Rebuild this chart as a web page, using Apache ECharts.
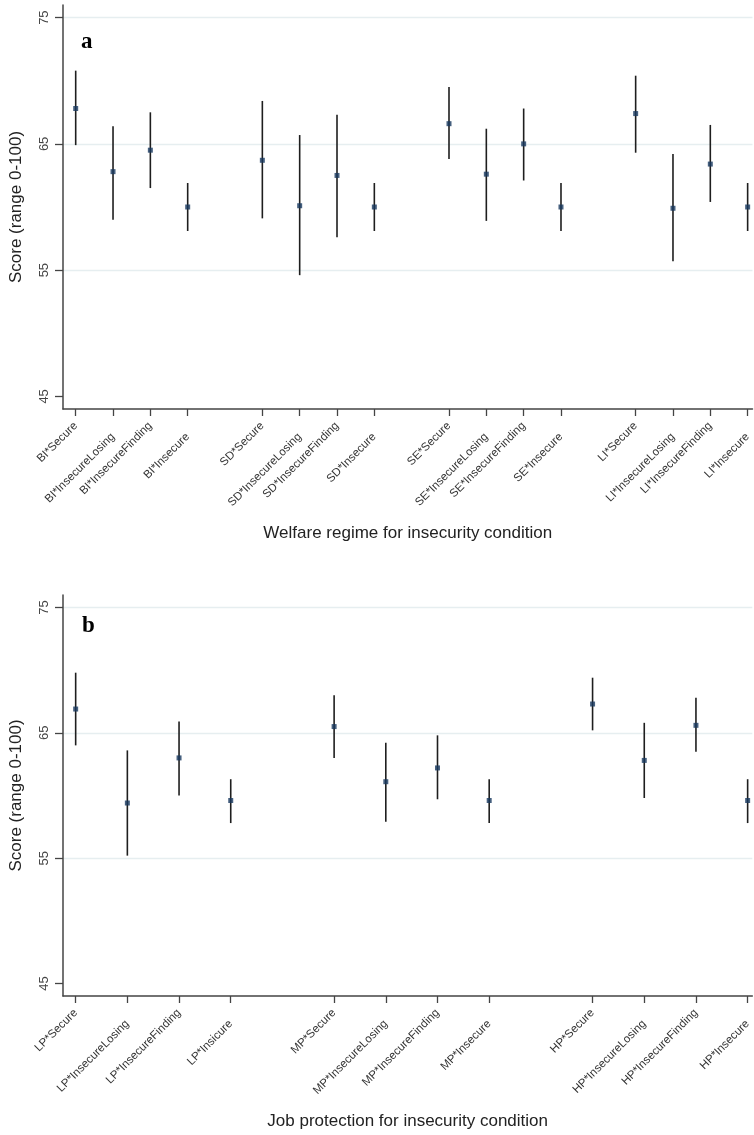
<!DOCTYPE html>
<html>
<head>
<meta charset="utf-8">
<script src="https://cdn.jsdelivr.net/npm/echarts@6/dist/echarts.min.js"></script>
<style>
  html, body { margin: 0; padding: 0; background: #ffffff; }
  #chart { width: 754px; height: 1135px; }
</style>
</head>
<body>
<div id="chart"></div>
<script>
// Panel a: welfare regime x insecurity condition
const regimeCategories = [
  'BI*Secure', 'BI*InsecureLosing', 'BI*InsecureFinding', 'BI*Insecure',
  'SD*Secure', 'SD*InsecureLosing', 'SD*InsecureFinding', 'SD*Insecure',
  'SE*Secure', 'SE*InsecureLosing', 'SE*InsecureFinding', 'SE*Insecure',
  'LI*Secure', 'LI*InsecureLosing', 'LI*InsecureFinding', 'LI*Insecure'
];
const regimeEstimate = [67.8, 62.8, 64.5, 60.0, 63.7, 60.1, 62.5, 60.0, 66.6, 62.6, 65.0, 60.0, 67.4, 59.9, 63.4, 60.0];
const regimeLower    = [64.9, 59.0, 61.5, 58.1, 59.1, 54.6, 57.6, 58.1, 63.8, 58.9, 62.1, 58.1, 64.3, 55.7, 60.4, 58.1];
const regimeUpper    = [70.8, 66.4, 67.5, 61.9, 68.4, 65.7, 67.3, 61.9, 69.5, 66.2, 67.8, 61.9, 70.4, 64.2, 66.5, 61.9];

// Panel b: job protection x insecurity condition
const protectionCategories = [
  'LP*Secure', 'LP*InsecureLosing', 'LP*InsecureFinding', 'LP*Insicure',
  'MP*Secure', 'MP*InsecureLosing', 'MP*InsecureFinding', 'MP*Insecure',
  'HP*Secure', 'HP*InsecureLosing', 'HP*InsecureFinding', 'HP*Insecure'
];
const protectionEstimate = [66.9, 59.4, 63.0, 59.6, 65.5, 61.1, 62.2, 59.6, 67.3, 62.8, 65.6, 59.6];
const protectionLower    = [64.0, 55.2, 60.0, 57.8, 63.0, 57.9, 59.7, 57.8, 65.2, 59.8, 63.5, 57.8];
const protectionUpper    = [69.8, 63.6, 65.9, 61.3, 68.0, 64.2, 64.8, 61.3, 69.4, 65.8, 67.8, 61.3];

const scoreTicks = [45, 55, 65, 75];

const GROUP_SIZE = 4;
const FONT = '"Liberation Sans", Arial, Helvetica, sans-serif';
const SERIF = '"Liberation Serif", "Times New Roman", serif';

// Categories sit at unit spacing, with one empty slot between groups
function positions(cats) {
  return cats.map((_, i) => i + Math.floor(i / GROUP_SIZE) + 1);
}

function labelStyle(values, names, margin) {
  return {
    customValues: values,
    rotate: 45,
    margin: margin,
    fontFamily: FONT,
    fontSize: 11.5,
    color: '#333',
    formatter: v => names[v] || ''
  };
}

function buildPanel(k, cats, est, lo, hi, xRange, gridBox, xTitle, titleGap) {
  const pos = positions(cats);
  const nameAt = {};
  pos.forEach((p, i) => { nameAt[p] = cats[i]; });
  // alternate labels sit on two staggered rows
  const upperRow = pos.filter((_, i) => i % 2 === 0);
  const lowerRow = pos.filter((_, i) => i % 2 === 1);

  const grid = Object.assign({ containLabel: false }, gridBox);

  const mainX = {
    type: 'value',
    gridIndex: k,
    position: 'bottom',
    min: xRange[0],
    max: xRange[1],
    name: xTitle,
    nameLocation: 'middle',
    nameGap: titleGap,
    nameTextStyle: { fontFamily: FONT, fontSize: 17, color: '#222' },
    axisLine: { show: true, onZero: false, lineStyle: { color: '#444', width: 1.5 } },
    axisTick: { show: true, length: 7, customValues: pos, lineStyle: { color: '#444', width: 1.3 } },
    axisLabel: labelStyle(upperRow, nameAt, 15),
    splitLine: { show: false }
  };

  const lowerX = {
    type: 'value',
    gridIndex: k,
    position: 'bottom',
    offset: 0,
    min: xRange[0],
    max: xRange[1],
    axisLine: { show: false },
    axisTick: { show: false },
    axisLabel: labelStyle(lowerRow, nameAt, 26),
    splitLine: { show: false }
  };

  const yAxis = {
    type: 'value',
    gridIndex: k,
    min: 44,
    max: 76,
    name: 'Score (range 0-100)',
    nameLocation: 'middle',
    nameGap: 38,
    nameTextStyle: { fontFamily: FONT, fontSize: 17, color: '#222' },
    axisLine: { show: true, onZero: false, lineStyle: { color: '#444', width: 1.5 } },
    axisTick: { show: true, length: 8, customValues: scoreTicks, lineStyle: { color: '#444', width: 1.3 } },
    axisLabel: {
      customValues: scoreTicks,
      rotate: 90,
      margin: 12,
      fontFamily: FONT,
      fontSize: 13,
      color: '#444'
    },
    splitLine: { show: false }
  };

  const xIndex = k * 2;
  const bars = pos.map((p, i) => [p, lo[i], hi[i]]);
  const points = pos.map((p, i) => [p, est[i]]);

  const series = [
    {
      // horizontal reference lines at the labelled scores above the baseline tick
      type: 'line',
      xAxisIndex: xIndex,
      yAxisIndex: k,
      data: [],
      silent: true,
      z: 0,
      markLine: {
        silent: true,
        z: 0,
        symbol: 'none',
        label: { show: false },
        lineStyle: { color: '#e6eef0', width: 1.3, type: 'solid' },
        data: scoreTicks.slice(1).map(v => ({ yAxis: v }))
      }
    },
    {
      type: 'custom',
      xAxisIndex: xIndex,
      yAxisIndex: k,
      silent: true,
      data: bars,
      renderItem: (params, api) => {
        const a = api.coord([api.value(0), api.value(1)]);
        const b = api.coord([api.value(0), api.value(2)]);
        return {
          type: 'line',
          shape: { x1: a[0], y1: a[1], x2: b[0], y2: b[1] },
          style: { stroke: '#1e1e1e', lineWidth: 1.6 }
        };
      },
      z: 2
    },
    {
      type: 'scatter',
      xAxisIndex: xIndex,
      yAxisIndex: k,
      silent: true,
      symbol: 'rect',
      symbolSize: 5,
      itemStyle: { color: '#16375e' },
      data: points,
      z: 3
    }
  ];

  return { grid, xAxes: [mainX, lowerX], yAxis, series };
}

const panelA = buildPanel(0, regimeCategories, regimeEstimate, regimeLower, regimeUpper,
  [0.66, 19.13], { left: 62, top: 5, right: 0, height: 404 },
  'Welfare regime for insecurity condition', 116);
const panelB = buildPanel(1, protectionCategories, protectionEstimate, protectionLower, protectionUpper,
  [0.755, 14.09], { left: 62, top: 595, right: 0, height: 401 },
  'Job protection for insecurity condition', 117);

const chart = echarts.init(document.getElementById('chart'), null, { renderer: 'canvas' });
chart.setOption({
  animation: false,
  backgroundColor: '#ffffff',
  title: [
    { text: 'a', left: 76, top: 26, textStyle: { fontFamily: SERIF, fontWeight: 'bold', fontSize: 23, color: '#000' } },
    { text: 'b', left: 77, top: 610, textStyle: { fontFamily: SERIF, fontWeight: 'bold', fontSize: 23, color: '#000' } }
  ],
  grid: [panelA.grid, panelB.grid],
  xAxis: panelA.xAxes.concat(panelB.xAxes),
  yAxis: [panelA.yAxis, panelB.yAxis],
  series: panelA.series.concat(panelB.series)
});
</script>
</body>
</html>
